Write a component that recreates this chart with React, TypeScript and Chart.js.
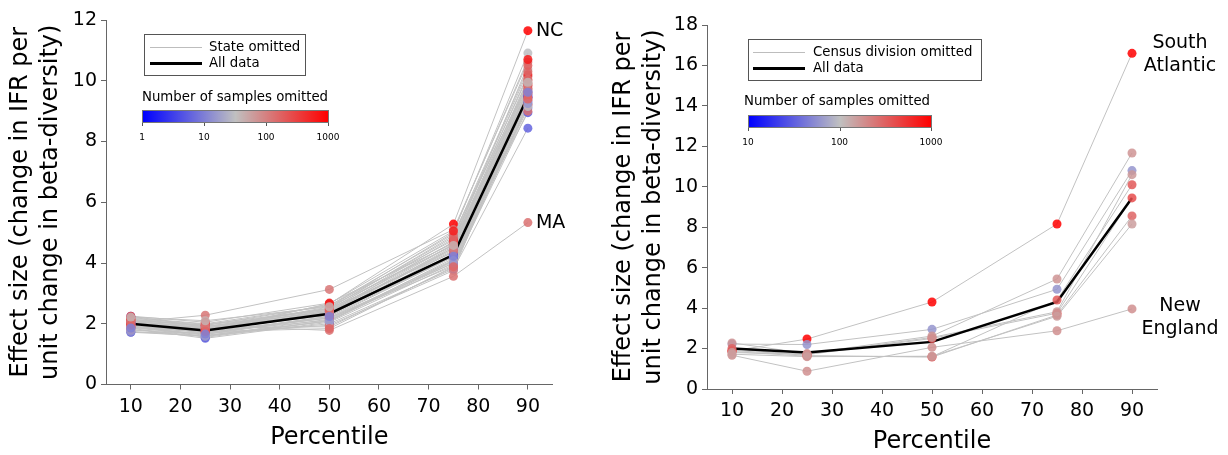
import React, { useEffect, useRef } from "react";
import { Chart, registerables } from "chart.js";
Chart.register(...registerables);

const FONT = "'DejaVu Sans', sans-serif";
Chart.defaults.font.family = FONT;

// ---------- shared axes ----------
const percentiles = [10, 25, 50, 75, 90];
const xTickValues = [10, 20, 30, 40, 50, 60, 70, 80, 90];
const leftYTickValues = [0, 2, 4, 6, 8, 10, 12];
const rightYTickValues = [0, 2, 4, 6, 8, 10, 12, 14, 16, 18];
const yTitleLines = ["Effect size (change in IFR per", "unit change in beta-diversity)"];

// ---------- left panel: one state omitted ----------
const stateP10 = [1.90, 2.15, 2.05, 1.95, 2.00, 2.10, 1.88, 2.20, 1.95, 2.05, 1.72, 2.25, 1.98, 2.02, 1.90, 2.10, 1.80, 2.00, 1.95, 2.15, 1.85, 2.05, 1.92, 2.25, 1.72, 2.00, 1.88, 2.12, 1.95, 2.08, 1.80, 2.02, 1.90, 2.18, 1.75, 1.98, 2.06, 1.94, 2.22, 1.86];
const stateP25 = [1.80, 1.95, 2.28, 1.85, 1.90, 1.95, 1.75, 2.00, 1.85, 1.80, 1.70, 1.90, 1.78, 1.77, 1.65, 1.85, 1.60, 1.55, 1.70, 1.90, 1.52, 1.80, 1.75, 2.05, 1.60, 1.88, 1.72, 1.95, 1.82, 1.86, 1.68, 1.84, 1.62, 1.98, 1.58, 1.76, 1.92, 1.74, 2.10, 1.66];
const stateP50 = [2.65, 1.78, 3.13, 2.55, 2.50, 2.45, 2.40, 2.60, 2.35, 2.30, 2.25, 2.40, 2.32, 2.34, 2.20, 2.45, 2.15, 2.10, 2.20, 2.50, 2.05, 2.28, 2.18, 2.68, 2.00, 1.90, 2.12, 2.60, 2.38, 2.42, 1.95, 2.52, 2.08, 2.48, 2.10, 2.66, 2.28, 1.84, 2.56, 2.24];
const stateP75 = [5.28, 3.56, 5.10, 5.00, 4.90, 4.80, 4.70, 4.95, 4.60, 4.55, 4.50, 4.45, 4.28, 4.25, 4.20, 4.40, 4.10, 4.15, 4.00, 4.35, 3.95, 4.30, 3.90, 4.65, 3.80, 3.85, 4.05, 4.75, 4.50, 4.62, 3.75, 4.85, 4.08, 4.68, 4.00, 5.05, 4.38, 3.88, 4.58, 4.22];
const stateP90 = [11.65, 5.33, 10.62, 10.91, 10.39, 10.14, 10.00, 9.90, 9.80, 9.75, 9.70, 9.65, 9.50, 9.46, 9.55, 9.60, 9.40, 9.30, 9.21, 9.35, 9.10, 8.95, 9.00, 9.85, 8.44, 9.20, 9.45, 10.20, 9.90, 10.05, 9.60, 10.30, 9.15, 10.50, 9.25, 10.70, 9.70, 9.40, 9.95, 9.62];
const stateSamples = [1000, 130, 120, 30, 40, 110, 150, 120, 80, 160, 20, 5, 1.5, 2, 8, 180, 12, 4, 160, 100, 6, 5, 130, 400, 6, 110, 200, 500, 60, 140, 110, 150, 30, 180, 15, 600, 120, 160, 40, 10];
const stateAllData = [2.0, 1.78, 2.33, 4.27, 9.48];
const stateLabelText = ["NC", "MA"];
const stateLabelIndex = [0, 1];
const stateColorbarTicks = ["1", "10", "100", "1000"];

// ---------- right panel: one census division omitted ----------
const divisionP10 = [1.88, 1.67, 2.22, 2.28, 1.85, 1.90, 2.00, 1.80, 1.72];
const divisionP25 = [2.47, 0.88, 2.20, 1.75, 1.62, 1.70, 1.65, 1.72, 1.60];
const divisionP50 = [4.30, 2.06, 2.95, 2.62, 1.60, 2.50, 1.58, 2.55, 1.62];
const divisionP75 = [8.16, 2.88, 4.93, 5.44, 4.40, 3.75, 3.66, 3.82, 3.60];
const divisionP90 = [16.60, 3.96, 10.80, 11.67, 10.10, 9.45, 8.56, 10.60, 8.16];
const divisionSamples = [1000, 180, 60, 170, 350, 400, 300, 160, 150];
const divisionAllData = [2.0, 1.8, 2.33, 4.3, 9.45];
const divisionLabelText = [["South", "Atlantic"], ["New", "England"]];
const divisionLabelIndex = [0, 1];
const divisionColorbarTicks = ["10", "100", "1000"];

// ---------- helpers ----------
function cmap(t: number): string {
  const u0 = Math.max(0, Math.min(1, t));
  let r: number, g: number, b: number;
  if (u0 < 0.5) {
    const u = u0 / 0.5;
    r = 192 * u; g = 192 * u; b = 255 + (192 - 255) * u;
  } else {
    const u = (u0 - 0.5) / 0.5;
    r = 192 + 63 * u; g = 192 * (1 - u); b = 192 * (1 - u);
  }
  return `rgba(${Math.round(r)},${Math.round(g)},${Math.round(b)},0.85)`;
}

type LabelItem = { x: number; y: number; lines: string[]; dx: number; dy: number; align: CanvasTextAlign };

function makeLabelPlugin(items: LabelItem[]) {
  return {
    id: "pointLabels",
    afterDatasetsDraw(chart: any) {
      const { ctx, scales } = chart;
      ctx.save();
      ctx.font = `19px ${FONT}`;
      ctx.fillStyle = "#000";
      ctx.textBaseline = "middle";
      for (const it of items) {
        const px = scales.x.getPixelForValue(it.x) + it.dx;
        const py = scales.y.getPixelForValue(it.y) + it.dy;
        ctx.textAlign = it.align;
        const lh = 23;
        it.lines.forEach((ln, i) => ctx.fillText(ln, px, py + (i - (it.lines.length - 1) / 2) * lh));
      }
      ctx.restore();
    },
  };
}

type PanelProps = {
  left: number;
  width: number;
  padLeft: number;
  padTop: number;
  padRight: number;
  yAxisWidth: number;
  xAxisHeight: number;
  yMax: number;
  yTicks: number[];
  yTitlePad: number;
  xTitlePad: number;
  cols: number[][];
  samples: number[];
  allData: number[];
  tOf: (n: number) => number;
  labels: LabelItem[];
};

function Panel(p: PanelProps) {
  const ref = useRef<HTMLCanvasElement>(null);
  useEffect(() => {
    const nLines = p.cols[0].length;
    const grayLines: any[] = [];
    const pts: any[] = [];
    const colors: string[] = [];
    for (let i = 0; i < nLines; i++) {
      const data = percentiles.map((x, j) => ({ x, y: p.cols[j][i] }));
      grayLines.push({
        type: "line",
        data,
        borderColor: "#c2c2c2",
        borderWidth: 1,
        pointRadius: 0,
        fill: false,
        tension: 0,
        order: 3,
      });
      data.forEach((d) => {
        pts.push(d);
        colors.push(cmap(p.tOf(p.samples[i])));
      });
    }
    const black = {
      type: "line",
      data: percentiles.map((x, j) => ({ x, y: p.allData[j] })),
      borderColor: "#000",
      borderWidth: 2.5,
      pointRadius: 0,
      fill: false,
      tension: 0,
      order: 2,
    };
    const points = {
      type: "line",
      data: pts,
      showLine: false,
      pointRadius: 4.5,
      pointBackgroundColor: colors,
      pointBorderColor: colors,
      pointBorderWidth: 0,
      order: 1,
    };
    const chart = new Chart(ref.current as HTMLCanvasElement, {
      type: "line",
      data: { datasets: [...grayLines, black, points] as any },
      options: {
        animation: false,
        responsive: false,
        events: [],
        layout: { padding: { left: p.padLeft, top: p.padTop, right: p.padRight, bottom: 0 } },
        plugins: { legend: { display: false }, tooltip: { enabled: false } },
        scales: {
          x: {
            type: "linear",
            min: 5,
            max: 95,
            afterBuildTicks: (s: any) => {
              s.ticks = xTickValues.map((v) => ({ value: v }));
            },
            afterFit: (s: any) => {
              s.height = p.xAxisHeight;
            },
            grid: { drawOnChartArea: false, drawTicks: true, tickLength: 5, color: "#666" },
            border: { display: true, color: "#666", width: 1 },
            ticks: { font: { size: 19 }, color: "#000", padding: 6, maxRotation: 0, autoSkip: false },
            title: {
              display: true,
              text: "Percentile",
              font: { size: 24, lineHeight: 1 },
              color: "#000",
              padding: { top: 0, bottom: p.xTitlePad },
            },
          },
          y: {
            type: "linear",
            min: 0,
            max: p.yMax,
            afterBuildTicks: (s: any) => {
              s.ticks = p.yTicks.map((v) => ({ value: v }));
            },
            afterFit: (s: any) => {
              s.width = p.yAxisWidth;
            },
            grid: { drawOnChartArea: false, drawTicks: true, tickLength: 5, color: "#666" },
            border: { display: true, color: "#666", width: 1 },
            ticks: { font: { size: 19 }, color: "#000", padding: 4 },
            title: {
              display: true,
              text: yTitleLines,
              font: { size: 24, lineHeight: 1.25 },
              color: "#000",
              padding: { top: p.yTitlePad, bottom: 0 },
            },
          },
        },
      } as any,
      plugins: [makeLabelPlugin(p.labels)],
    });
    return () => chart.destroy();
  }, []);
  return (
    <div style={{ position: "absolute", left: p.left, top: 0, width: p.width, height: 455 }}>
      <canvas ref={ref} width={p.width} height={455} style={{ display: "block" }} />
    </div>
  );
}

const txt: React.CSSProperties = {
  position: "absolute",
  fontFamily: FONT,
  fontSize: 13.3,
  lineHeight: "16px",
  color: "#000",
  whiteSpace: "nowrap",
};

type KeyProps = {
  boxX: number; boxY: number; boxW: number; boxH: number;
  lineX: number; lineW: number; textX: number; row1: number; row2: number;
  seriesLabel: string;
  cbTitleX: number; cbTitleY: number;
  barX: number; barY: number; barW: number; barH: number;
  ticks: string[]; tickLabelY: number;
};

function Key(k: KeyProps) {
  return (
    <>
      <div style={{ position: "absolute", left: k.boxX, top: k.boxY, width: k.boxW, height: k.boxH, border: "1px solid #555", boxSizing: "border-box", background: "#fff" }} />
      <div style={{ position: "absolute", left: k.lineX, top: k.row1, width: k.lineW, height: 1, background: "#bdbdbd" }} />
      <div style={{ position: "absolute", left: k.lineX, top: k.row2 - 1, width: k.lineW, height: 3, background: "#000" }} />
      <div style={{ ...txt, left: k.textX, top: k.row1 - 8 }}>{k.seriesLabel}</div>
      <div style={{ ...txt, left: k.textX, top: k.row2 - 8 }}>All data</div>
      <div style={{ ...txt, left: k.cbTitleX, top: k.cbTitleY - 8 }}>Number of samples omitted</div>
      <div style={{ position: "absolute", left: k.barX, top: k.barY, width: k.barW, height: k.barH, boxSizing: "border-box", border: "1px solid #777", background: "linear-gradient(to right, rgb(0,0,255), rgb(192,192,192), rgb(255,0,0))" }} />
      {k.ticks.map((t, i) => {
        const x = k.barX + (i * (k.barW - 1)) / (k.ticks.length - 1);
        return (
          <React.Fragment key={t}>
            <div style={{ position: "absolute", left: x, top: k.barY + k.barH, width: 1, height: 3, background: "#555" }} />
            <div style={{ ...txt, fontSize: 9, lineHeight: "11px", left: x, top: k.tickLabelY - 5.5, transform: "translateX(-50%)" }}>{t}</div>
          </React.Fragment>
        );
      })}
    </>
  );
}

export default function App() {
  const stateCols = [stateP10, stateP25, stateP50, stateP75, stateP90];
  const divisionCols = [divisionP10, divisionP25, divisionP50, divisionP75, divisionP90];
  const stateLabels: LabelItem[] = stateLabelText.map((t, i) => ({
    x: 90, y: stateP90[stateLabelIndex[i]], lines: [t], dx: 8, dy: 0, align: "left" as CanvasTextAlign,
  }));
  const divisionLabels: LabelItem[] = divisionLabelText.map((t, i) => ({
    x: 90, y: divisionP90[divisionLabelIndex[i]], lines: t, dx: 48, dy: i === 0 ? 1 : 9, align: "center" as CanvasTextAlign,
  }));
  return (
    <div style={{ position: "absolute", left: 0, top: 0, width: 1228, height: 455, background: "#fff", overflow: "hidden" }}>
      <Panel
        left={0} width={600} padLeft={0} padTop={20} padRight={47.3}
        yAxisWidth={106} xAxisHeight={70.5} yMax={12} yTicks={leftYTickValues}
        yTitlePad={6} xTitlePad={5}
        cols={stateCols} samples={stateSamples} allData={stateAllData}
        tOf={(n) => Math.log10(n) / 3} labels={stateLabels}
      />
      <Panel
        left={600} width={628} padLeft={0} padTop={25} padRight={71}
        yAxisWidth={107} xAxisHeight={66} yMax={18} yTicks={rightYTickValues}
        yTitlePad={9} xTitlePad={1}
        cols={divisionCols} samples={divisionSamples} allData={divisionAllData}
        tOf={(n) => (Math.log10(n) - 1) / 2} labels={divisionLabels}
      />
      <Key
        boxX={144} boxY={34} boxW={162} boxH={42} lineX={150} lineW={52} textX={209} row1={47} row2={63}
        seriesLabel="State omitted" cbTitleX={142} cbTitleY={97}
        barX={142} barY={110} barW={187} barH={13} ticks={stateColorbarTicks} tickLabelY={137}
      />
      <Key
        boxX={748} boxY={39} boxW={234} boxH={42} lineX={753} lineW={52} textX={813} row1={52} row2={68}
        seriesLabel="Census division omitted" cbTitleX={744} cbTitleY={101}
        barX={748} barY={115} barW={184} barH={13} ticks={divisionColorbarTicks} tickLabelY={142}
      />
    </div>
  );
}
